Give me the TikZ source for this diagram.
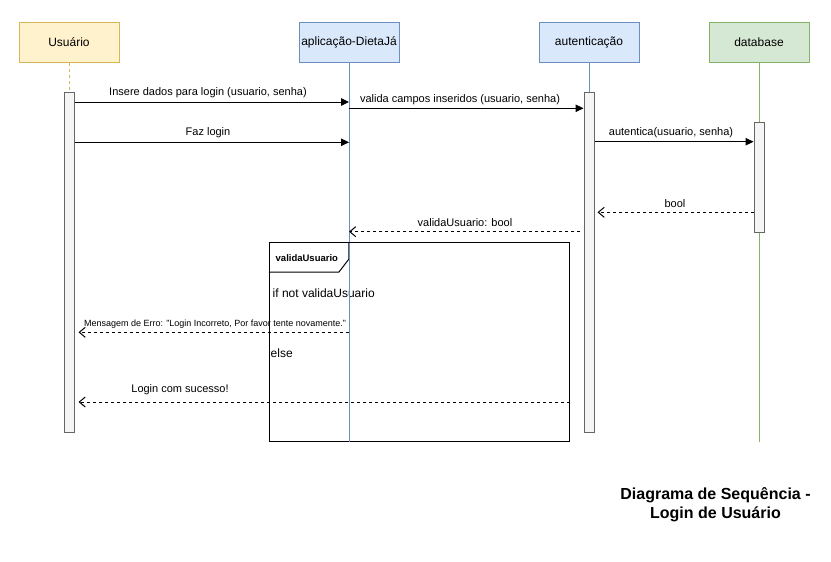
\documentclass[tikz,border=0pt]{standalone}
\usepackage{fontspec}
\setmainfont{Liberation Sans}
\usetikzlibrary{arrows.meta}
\definecolor{usrfill}{HTML}{FFF2CC}\definecolor{usrline}{HTML}{D6B656}
\definecolor{bluefill}{HTML}{DAE8FC}\definecolor{blueline}{HTML}{6C8EBF}
\definecolor{greenfill}{HTML}{D5E8D4}\definecolor{greenline}{HTML}{82B366}
\definecolor{barfill}{HTML}{F5F5F5}\definecolor{barline}{HTML}{666666}
\begin{document}
\begin{tikzpicture}[x=1pt,y=-1pt,
  head/.style={rectangle, minimum width=100pt, minimum height=40pt, inner sep=0pt, line width=1pt,
    font=\fontsize{12}{14}\selectfont},
  actbar/.style={rectangle, draw=barline, fill=barfill, line width=1pt, minimum width=10pt, inner sep=0pt},
  call/.style={line width=1pt, -{Triangle[length=8pt,width=7.5pt]}},
  reply/.style={line width=1pt, dash pattern=on 3pt off 3pt, -{Straight Barb[length=6pt,width=10pt]}},
  lbl/.style={font=\fontsize{11}{13}\selectfont, inner sep=0pt},
  small/.style={font=\fontsize{9}{11}\selectfont, inner sep=0pt}]
\useasboundingbox (0,0) rectangle (831,562);

% participants
\node[head, draw=usrline, fill=usrfill] (usr) at (69,42) {Usuário};
\node[head, draw=blueline, fill=bluefill] (app) at (349,42) {aplicação-DietaJá};
\node[head, draw=blueline, fill=bluefill] (auth) at (589,42) {autenticação};
\node[head, draw=greenline, fill=greenfill] (db) at (759,42) {database};

% lifeline ends
\coordinate (append) at (349,442);
\coordinate (dbend) at (759,442);

% lifelines
\draw[usrline, line width=1pt, dash pattern=on 3pt off 3pt] (usr.south) -- (69,92);
\draw[blueline, line width=1pt] (app.south) -- (append);
\draw[blueline, line width=1pt] (auth.south) -- (589,92);
\draw[greenline, line width=1pt] (db.south) -- (dbend);

% combined fragment
\node[rectangle, draw, line width=1pt, fill=white, minimum width=300pt, minimum height=199pt, inner sep=0pt]
  (frag) at (419.3,342.2) {};
\draw[line width=1pt] (frag.north west) ++(0,30) -- ++(70,0) -- ++(10,-13) -- ++(0,-17);
\node[anchor=west, inner sep=0pt, font=\fontsize{9.5}{11}\selectfont\bfseries] (fraglbl) at (275.5,258) {validaUsuario};
\node[anchor=west, inner sep=0pt, font=\fontsize{12}{14}\selectfont] (cond1) at (272.5,293) {if not validaUsuario};
\node[anchor=west, inner sep=0pt, font=\fontsize{12}{14}\selectfont] (cond2) at (270.5,353) {else};
\draw[blueline, line width=1pt] (349,243) -- (append);

% activation bars
\node[actbar, minimum height=340pt] (usrbar) at (69,262) {};
\node[actbar, minimum height=340pt] (authbar) at (589,262) {};
\node[actbar, minimum height=110pt] (dbbar) at (759,177.3) {};

% messages
\draw[call] (usrbar.east |- 0,102) -- (app.south |- 0,102);
\node[lbl] (m1) at (208,93) {Insere dados para login (usuario, senha)};
\draw[call] (app.south |- 0,108.3) -- (authbar.west |- 0,108.3);
\node[lbl] (m2) at (460,100) {valida campos inseridos (usuario, senha)};
\draw[call] (usrbar.east |- 0,142.3) -- (app.south |- 0,142.3);
\node[lbl] (m3) at (208,133) {Faz login};
\draw[call] (authbar.east |- 0,141.7) -- (dbbar.west |- 0,141.7);
\node[lbl] (m4) at (671,132.5) {autentica(usuario, senha)};
\draw[reply] (dbbar.west |- 0,212.3) -- ([xshift=3pt]authbar.east |- 0,212.3);
\node[lbl] (m5) at (675,203.5) {bool};
\draw[reply] ([xshift=-4pt]authbar.west |- 0,231.7) -- (app.south |- 0,231.7);
\node[lbl] (m6) at (465,222.5) {validaUsuario: bool};
\draw[reply] (app.south |- 0,332.3) -- ([xshift=4pt]usrbar.east |- 0,332.3);
\node[small] (m7) at (215,324.5) {Mensagem de Erro: "Login Incorreto, Por favor tente novamente."};
\draw[reply] (frag.east |- 0,402) -- ([xshift=4pt]usrbar.east |- 0,402);
\node[lbl] (m8) at (180,389.5) {Login com sucesso!};

% title
\node[align=center, inner sep=0pt, font=\fontsize{16}{19}\selectfont\bfseries] (title) at (715.5,504.5)
  {Diagrama de Sequência -\\Login de Usuário};
\end{tikzpicture}
\end{document}
